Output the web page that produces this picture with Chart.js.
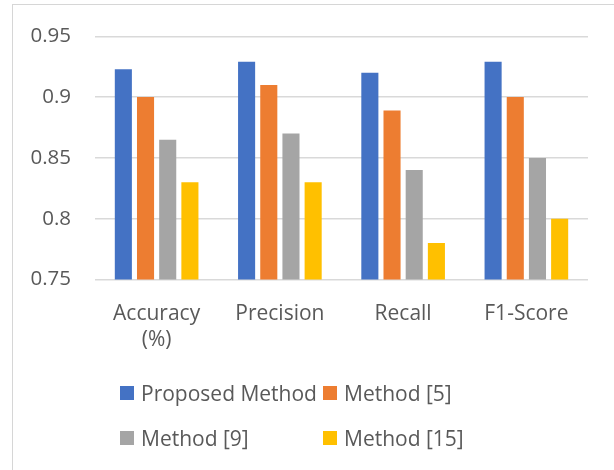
<!DOCTYPE html>
<html>
<head>
<meta charset="utf-8">
<script src="https://cdn.jsdelivr.net/npm/chart.js@4/dist/chart.umd.min.js"></script>
<style>
  html, body { margin: 0; padding: 0; background: #fff; }
  #wrap { position: relative; width: 614px; height: 470px; overflow: hidden; }
  #frame { position: absolute; left: 12px; top: 4px; width: 700px; height: 600px;
           border-left: 1px solid #d6d6d6; border-top: 1px solid #d6d6d6; }
  #chart { position: absolute; left: 0; top: 0; }
  #legend { position: absolute; left: 120px; top: 380px; display: grid;
            grid-template-columns: 203px 200px; row-gap: 19px;
            font-family: "Open Sans", sans-serif; font-size: 21px; color: #595959; }
  .item { display: flex; align-items: center; height: 26px; white-space: nowrap; }
  .box { width: 14px; height: 14px; margin-right: 7px; flex: none; }
</style>
</head>
<body>
<div id="wrap">
  <div id="frame"></div>
  <canvas id="chart" width="614" height="470"></canvas>
  <div id="legend"></div>
</div>
<script>
// categories and series
const categories = [["Accuracy", "(%)"], "Precision", "Recall", "F1-Score"];
const seriesNames = ["Proposed Method", "Method [5]", "Method [9]", "Method [15]"];
const proposed = [0.923, 0.929, 0.92, 0.929];
const method5 = [0.90, 0.91, 0.889, 0.90];
const method9 = [0.865, 0.87, 0.84, 0.85];
const method15 = [0.83, 0.83, 0.78, 0.80];
const yTicks = [0.75, 0.8, 0.85, 0.9, 0.95];

const colors = ["#4472C4", "#ED7D31", "#A5A5A5", "#FFC000"];
const textColor = "#595959";
const font = { family: "'Open Sans', sans-serif", size: 21 };

const values = [proposed, method5, method9, method15];
const datasets = seriesNames.map((name, i) => ({
  label: name,
  data: values[i],
  backgroundColor: colors[i],
  borderWidth: 0,
  categoryPercentage: 0.72,
  barPercentage: 0.77
}));

const chart = new Chart(document.getElementById("chart"), {
  type: "bar",
  data: { labels: categories, datasets: datasets },
  options: {
    responsive: false,
    animation: false,
    layout: { padding: { left: 0, right: 26, top: 32, bottom: 0 } },
    plugins: {
      legend: { display: false },
      tooltip: { enabled: false }
    },
    scales: {
      x: {
        grid: { display: false },
        border: { display: false },
        ticks: { color: textColor, font: { ...font, lineHeight: 1.26 }, padding: 13, maxRotation: 0 },
        afterFit: (scale) => { scale.height = 190.5; }
      },
      y: {
        min: yTicks[0],
        max: yTicks[yTicks.length - 1],
        afterBuildTicks: (scale) => { scale.ticks = yTicks.map(v => ({ value: v })); },
        grid: { color: "#d9d9d9", lineWidth: 1.4, drawTicks: false },
        border: { display: false },
        ticks: {
          color: textColor,
          font: { ...font, size: 20.5 },
          padding: 24,
          callback: (v) => String(+v.toFixed(2))
        },
        afterFit: (scale) => { scale.width = 95; }
      }
    }
  }
});

// legend laid out as a two-column grid, like the original
const legend = document.getElementById("legend");
chart.data.datasets.forEach((ds) => {
  const item = document.createElement("div");
  item.className = "item";
  const box = document.createElement("span");
  box.className = "box";
  box.style.background = ds.backgroundColor;
  item.appendChild(box);
  item.appendChild(document.createTextNode(ds.label));
  legend.appendChild(item);
});
</script>
</body>
</html>
